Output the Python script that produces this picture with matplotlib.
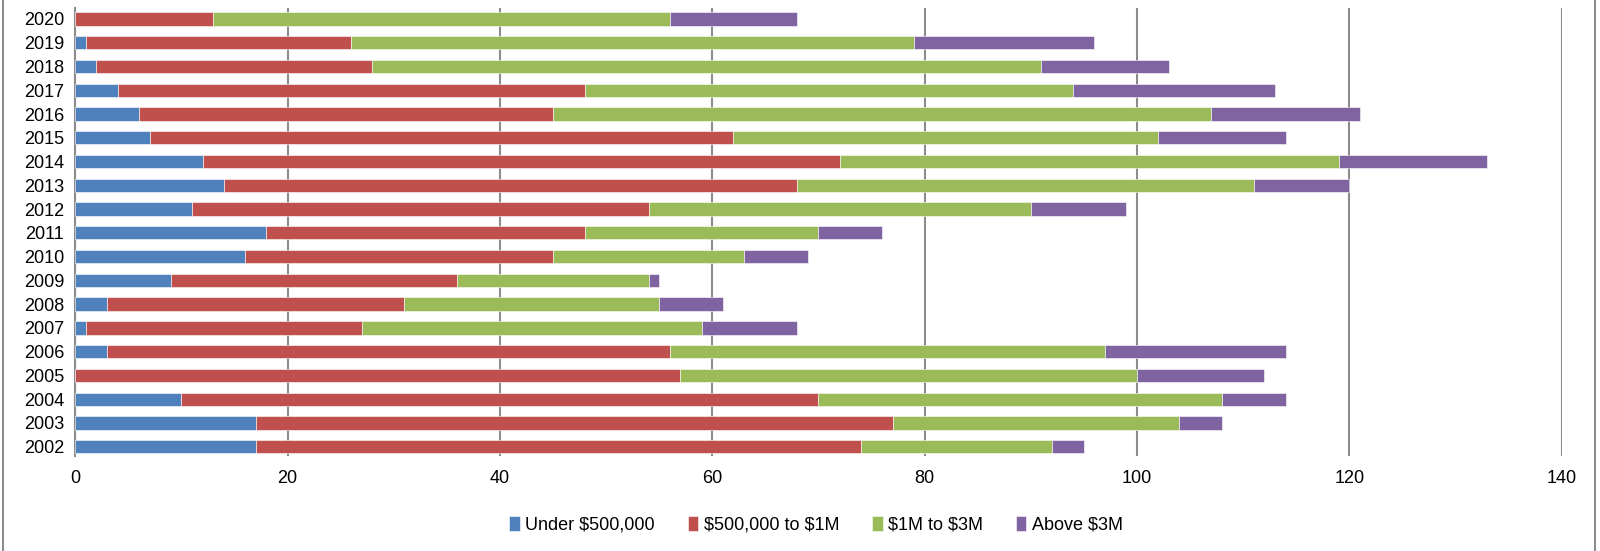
import numpy as np
import matplotlib.pyplot as plt
from matplotlib.lines import Line2D

# data
years = ["2002", "2003", "2004", "2005", "2006", "2007", "2008", "2009", "2010",
         "2011", "2012", "2013", "2014", "2015", "2016", "2017", "2018", "2019", "2020"]
under_500k = [17, 17, 10, 0, 3, 1, 3, 9, 16, 18, 11, 14, 12, 7, 6, 4, 2, 1, 0]
k500_to_1m = [57, 60, 60, 57, 53, 26, 28, 27, 29, 30, 43, 54, 60, 55, 39, 44, 26, 25, 13]
m1_to_3m = [18, 27, 38, 43, 41, 32, 24, 18, 18, 22, 36, 43, 47, 40, 62, 46, 63, 53, 43]
above_3m = [3, 4, 6, 12, 17, 9, 6, 1, 6, 6, 9, 9, 14, 12, 14, 19, 12, 17, 12]

labels = [r"Under \$500,000", r"\$500,000 to \$1M", r"\$1M to \$3M", r"Above \$3M"]
colors = ["#4F81BD", "#C0504D", "#9BBB59", "#8064A2"]

plt.rcParams['font.family'] = ['Liberation Sans Narrow', 'Liberation Sans', 'DejaVu Sans']

fig = plt.figure(figsize=(16, 5.51), dpi=100)
ax = fig.add_axes([0.047, 0.172, 0.929, 0.813])

y = np.arange(len(years))
left = np.zeros(len(years))
for vals, lab, col in zip([under_500k, k500_to_1m, m1_to_3m, above_3m], labels, colors):
    vals = np.array(vals)
    ax.barh(y, vals, left=left, height=0.56, color=col, label=lab,
            edgecolor="white", linewidth=0.4, zorder=3)
    left += vals

ax.set_xlim(0, 140)
ax.set_ylim(-0.4, 18.45)
ax.set_xticks(np.arange(0, 141, 20))
ax.set_yticks(y)
ax.set_yticklabels(years)

ax.grid(axis="x", color="#8C8C8C", linewidth=1.5, zorder=0)
ax.grid(axis="y", visible=False)
for s in ["top", "right", "bottom"]:
    ax.spines[s].set_visible(False)
ax.spines["left"].set_color("#8C8C8C")
ax.spines["left"].set_linewidth(1.5)
ax.tick_params(axis="y", length=0, pad=8, labelsize=13)
ax.tick_params(axis="x", length=0, pad=10, labelsize=13)

ax.legend(loc="center", bbox_to_anchor=(0.51, 0.047), bbox_transform=fig.transFigure,
          ncol=4, frameon=False, fontsize=13, handlelength=0.6, handleheight=0.9,
          handletextpad=0.3, columnspacing=1.8)

# chart frame lines
fig.add_artist(Line2D([0.002, 0.002], [0, 1], color="#8C8C8C", linewidth=1.5))
fig.add_artist(Line2D([0.997, 0.997], [0, 1], color="#8C8C8C", linewidth=1.5))

plt.savefig("out.png", dpi=100)
